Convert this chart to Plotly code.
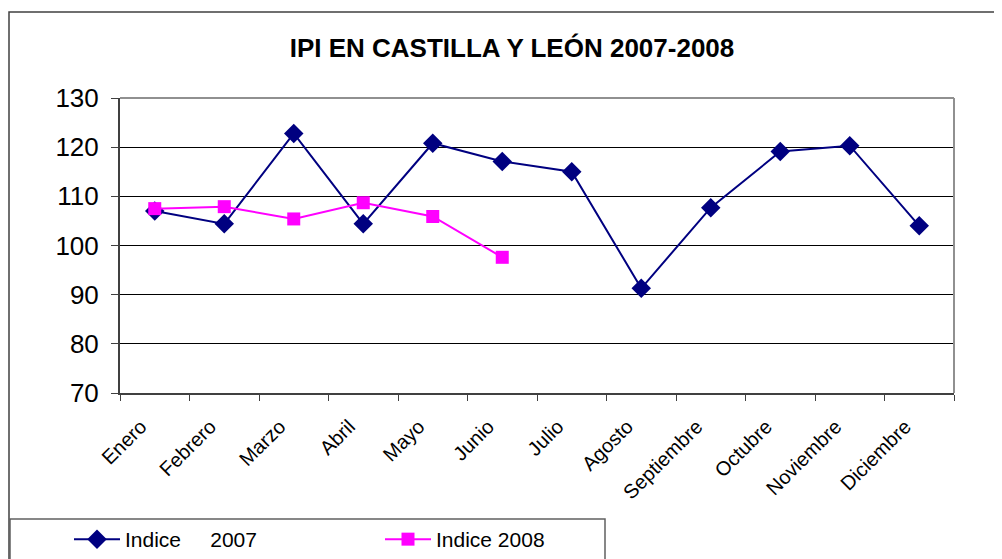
import plotly.graph_objects as go

months = ["Enero", "Febrero", "Marzo", "Abril", "Mayo", "Junio", "Julio",
          "Agosto", "Septiembre", "Octubre", "Noviembre", "Diciembre"]
ipi_2007 = [107.0, 104.4, 122.8, 104.4, 120.8, 117.1, 115.0, 91.3, 107.7, 119.1, 120.3, 104.0]
ipi_2008 = [107.5, 107.9, 105.4, 108.7, 105.9, 97.6]
y_ticks = [70, 80, 90, 100, 110, 120, 130]

OFF = 8  # page body margin
W, H = 1002 - OFF, 559 - OFF
L, T = 120 - OFF, 98 - OFF
R = W - (954 - OFF)
B = H - (393 - OFF)
pw, ph = W - L - R, H - T - B

def px(x):
    return (x - OFF - L) / pw

def py(y):
    return (H - B - (y - OFF)) / ph

FONT = "Liberation Sans, Arial, sans-serif"

fig = go.Figure()
fig.add_trace(go.Scatter(
    x=months, y=ipi_2007, mode="lines+markers",
    name="Indice\u00a0\u00a0\u00a0\u00a0\u00a02007",
    line=dict(color="#000080", width=2),
    marker=dict(symbol="diamond", size=15, color="#000080"),
))
fig.add_trace(go.Scatter(
    x=months[:len(ipi_2008)], y=ipi_2008, mode="lines+markers",
    name="Indice 2008",
    line=dict(color="#FF00FF", width=2),
    marker=dict(symbol="square", size=13, color="#FF00FF"),
))

frame_path = "M {x0},{y0} L {x0},{y1} L {x2},{y1}".format(
    x0=px(9), y0=py(575), y1=py(12), x2=px(1015))
legend_path = "M {x0},{y0} L {x0},{y1} L {x1},{y1} L {x1},{y0}".format(
    x0=px(10), y0=py(575), y1=py(519), x1=px(605))

fig.update_layout(
    width=W, height=H,
    margin=dict(l=L, r=R, t=T, b=B, autoexpand=False),
    paper_bgcolor="white", plot_bgcolor="white",
    font=dict(family=FONT, color="black"),
    title=dict(text="<b>IPI EN CASTILLA Y LEÓN 2007-2008</b>",
               x=px(512), xref="paper", xanchor="center",
               y=1 - (48 - OFF) / H, yanchor="middle",
               font=dict(size=26, family=FONT, color="black")),
    xaxis=dict(type="category", categoryorder="array", categoryarray=months,
               tickangle=-45, tickfont=dict(size=20, family=FONT),
               ticks="outside", ticklen=6, tickcolor="#404040",
               tickson="boundaries", showgrid=False,
               ticklabelstandoff=12, ticklabelshift=-14,
               showline=True, linecolor="#404040", linewidth=2,
               range=[-0.5, 11.5]),
    yaxis=dict(range=[70, 130], tickvals=y_ticks,
               tickfont=dict(size=26, family=FONT),
               ticks="outside", ticklen=7, tickcolor="#404040",
               ticklabelstandoff=7,
               showgrid=True, gridcolor="black", gridwidth=1,
               showline=True, linecolor="#404040", linewidth=2,
               zeroline=False),
    legend=dict(orientation="h", x=px(69), y=py(519), xanchor="left", yanchor="top",
                xref="paper", yref="paper",
                font=dict(size=21, family=FONT),
                entrywidth=250, entrywidthmode="pixels", itemwidth=46,
                bgcolor="rgba(0,0,0,0)", borderwidth=0),
    showlegend=True,
    shapes=[
        dict(type="path", xref="paper", yref="paper", path=frame_path,
             line=dict(color="#404040", width=1.5), layer="below"),
        dict(type="line", xref="paper", yref="paper", x0=0, x1=1, y0=1, y1=1,
             line=dict(color="#909090", width=2)),
        dict(type="line", xref="paper", yref="paper", x0=1, x1=1, y0=0, y1=1,
             line=dict(color="#909090", width=2)),
        dict(type="path", xref="paper", yref="paper", path=legend_path,
             line=dict(color="#606060", width=1.5), layer="below"),
    ],
)

fig.write_html("out.html")
